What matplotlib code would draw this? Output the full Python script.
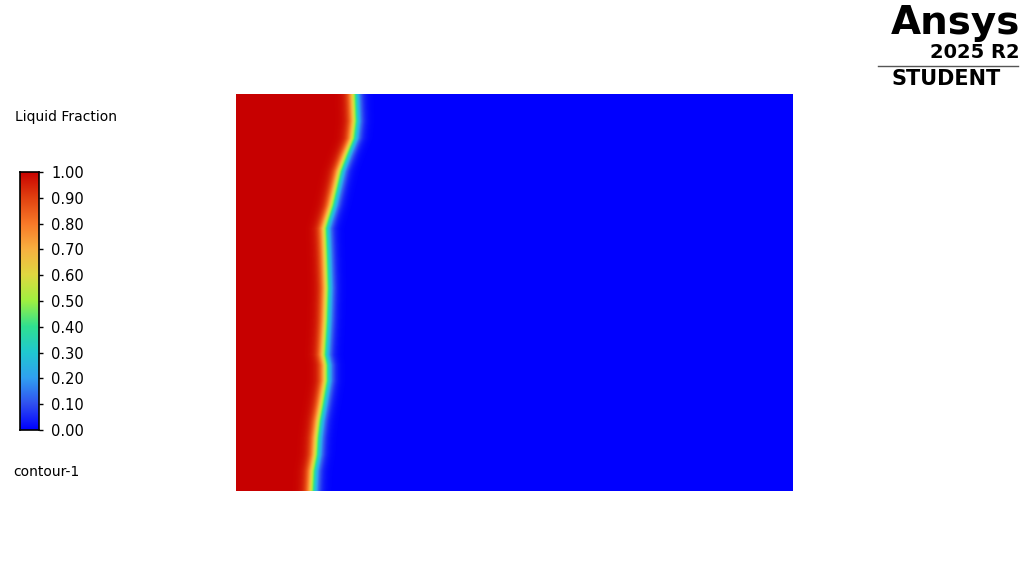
import numpy as np
import matplotlib
matplotlib.use("Agg")
import matplotlib.pyplot as plt
from matplotlib.colors import LinearSegmentedColormap

# ---- data ----
# melt-front position (fraction of domain width) at heights (fraction of domain height, bottom=0)
front_y = [0.0, 0.050, 0.091, 0.134, 0.176, 0.217, 0.277, 0.317, 0.343, 0.385, 0.428,
           0.511, 0.594, 0.662, 0.680, 0.720, 0.763, 0.806, 0.846, 0.889, 0.932, 1.0]
front_x = [0.1364, 0.1382, 0.1436, 0.1454, 0.1490, 0.1544, 0.1616, 0.1616, 0.1580, 0.1598, 0.1616,
           0.1634, 0.1616, 0.1598, 0.1634, 0.1724, 0.1795, 0.1867, 0.1975, 0.2101, 0.2136, 0.2119]
cbar_ticks = [0.0, 0.1, 0.2, 0.3, 0.4, 0.5, 0.6, 0.7, 0.8, 0.9, 1.0]
cbar_labels = ["0.00", "0.10", "0.20", "0.30", "0.40", "0.50", "0.60", "0.70", "0.80", "0.90", "1.00"]
cmap_colors = ["#0000ff", "#3050f0", "#30a0f0", "#20c8d0", "#30e090", "#a0f040",
               "#e0d840", "#f8b040", "#f87828", "#e04010", "#c80000"]

W, H = 1029, 586
fig = plt.figure(figsize=(W / 100, H / 100), dpi=100)

cmap = LinearSegmentedColormap.from_list("fluent", list(zip(cbar_ticks, cmap_colors)))

# domain axes
ax = fig.add_axes([236 / W, (H - 491) / H, 557 / W, 397 / H])
nx, ny = 1114, 794
xs = np.linspace(0, 1, nx)
ys = np.linspace(0, 1, ny)
X, Y = np.meshgrid(xs, ys)
xf = np.interp(ys, front_y, front_x)[:, None]
w = 7.0 / 557
lf = 0.5 * (1 - np.tanh((X - xf) / w))
ax.imshow(lf, cmap=cmap, vmin=0, vmax=1, origin="lower", extent=[0, 1, 0, 1],
          aspect="auto", interpolation="bilinear")
ax.set_axis_off()

# colorbar
cax = fig.add_axes([20 / W, (H - 430) / H, 19 / W, 258 / H])
grad = np.linspace(0, 1, 256)[:, None]
cax.imshow(grad, cmap=cmap, vmin=0, vmax=1, origin="lower", extent=[0, 1, 0, 1], aspect="auto")
cax.set_xticks([])
cax.yaxis.tick_right()
cax.set_yticks(cbar_ticks)
cax.set_yticklabels(cbar_labels)
cax.tick_params(axis="y", length=3, width=1, pad=6, labelsize=10.5, colors="black")
for s in cax.spines.values():
    s.set_linewidth(1.2)

fig.text(15 / W, 1 - 117 / H, "Liquid Fraction", fontsize=10, va="center", ha="left")
fig.text(13 / W, 1 - 472 / H, "contour-1", fontsize=10, va="center", ha="left")

# logo
fig.text(1020 / W, 1 - 23 / H, "Ansys", fontsize=28, fontweight="heavy", ha="right", va="center")
fig.text(1020 / W, 1 - 52 / H, "2025 R2", fontsize=14, fontweight="bold", ha="right", va="center")
fig.add_artist(plt.Line2D([878 / W, 1018 / W], [1 - 66 / H, 1 - 66 / H], color="#555555", lw=1))
fig.text(946 / W, 1 - 79 / H, "STUDENT", fontsize=15, fontweight="bold", ha="center", va="center")

fig.savefig("out.png", dpi=100)
